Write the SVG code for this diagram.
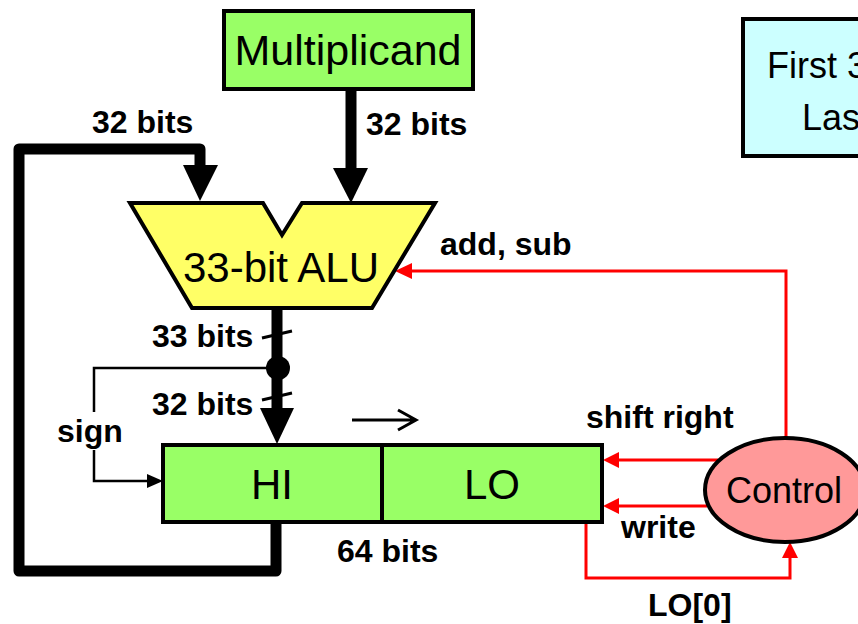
<svg xmlns="http://www.w3.org/2000/svg" width="858" height="624" viewBox="0 0 858 624">
<style>
.reg{font-family:"Liberation Sans",Arial,sans-serif;fill:#000}
.lbl{font-family:"Liberation Sans",Arial,sans-serif;font-weight:bold;font-size:32px;fill:#000}
.box{stroke:#000;stroke-width:4}
.bus{fill:none;stroke:#000;stroke-width:11;stroke-linejoin:round}
.thin{fill:none;stroke:#000;stroke-width:2.5}
.red{fill:none;stroke:#FF0000;stroke-width:3}
.redh{fill:#FF0000}
</style>
<rect width="858" height="624" fill="#fff"/>

<g id="connectors">
  <path class="bus" d="M276 522 L276 571 L19 571 L19 149 L200 149 L200 168"/>
  <polygon points="183,165 218,165 200,201" fill="#000"/>
  <path class="bus" d="M351 89 L351 170"/>
  <polygon points="333,168 368,168 351,203" fill="#000"/>
  <path class="bus" d="M277 306 L277 410"/>
  <polygon points="260,408 294,408 277,444" fill="#000"/>
  <line x1="262" y1="338" x2="292" y2="331" stroke="#000" stroke-width="3"/>
  <line x1="262" y1="400" x2="292" y2="393" stroke="#000" stroke-width="3"/>
  <circle cx="278" cy="368" r="12" fill="#000"/>
  <path class="thin" d="M278 368 L94 368 L94 412"/>
  <path class="thin" d="M94 450 L94 481 L150 481"/>
  <polygon points="147,474 163,481 147,488" fill="#000"/>
  <path d="M352 420 L415 420 M398 410 L416 420 L398 430" fill="none" stroke="#000" stroke-width="3"/>
  <path class="red" d="M786 440 L786 271 L410 271"/>
  <polygon class="redh" points="412,263 395,271 412,279"/>
  <path class="red" d="M718 460 L616 460"/>
  <polygon class="redh" points="619,452 603,460 619,468"/>
  <path class="red" d="M707 506 L616 506"/>
  <polygon class="redh" points="619,498 603,506 619,514"/>
  <path class="red" d="M586 522 L586 578 L790 578 L790 555"/>
  <polygon class="redh" points="782,558 790,542 798,558"/>
</g>

<g id="multiplicand">
  <rect class="box" x="224" y="11" width="249" height="78" fill="#99FF66"/>
  <text class="reg" x="348" y="65" font-size="43" text-anchor="middle">Multiplicand</text>
</g>

<g id="alu">
  <polygon class="box" points="130,203 263,203 282,235 302,203 435,203 372,308 192,308" fill="#FFFF66" stroke-linejoin="miter"/>
  <text class="reg" x="281" y="282" font-size="42" text-anchor="middle">33-bit ALU</text>
</g>

<g id="hilo">
  <rect class="box" x="163" y="445" width="439" height="77" fill="#99FF66"/>
  <line x1="382" y1="445" x2="382" y2="522" stroke="#000" stroke-width="4"/>
  <text class="reg" x="272" y="499" font-size="42" text-anchor="middle">HI</text>
  <text class="reg" x="492" y="499" font-size="42" text-anchor="middle">LO</text>
</g>

<g id="control">
  <ellipse class="box" cx="785" cy="490" rx="80" ry="52" fill="#FF9999"/>
  <text class="reg" x="784" y="503" font-size="36" text-anchor="middle">Control</text>
</g>

<g id="note">
  <rect class="box" x="743" y="19" width="160" height="137" fill="#CCFFFF"/>
  <text class="reg" x="767" y="78" font-size="36">First 3</text>
  <text class="reg" x="802" y="130" font-size="36">Las</text>
</g>

<g id="labels">
  <text class="lbl" x="92" y="133">32 bits</text>
  <text class="lbl" x="366" y="135">32 bits</text>
  <text class="lbl" x="440" y="255">add, sub</text>
  <text class="lbl" x="152" y="347">33 bits</text>
  <text class="lbl" x="152" y="415">32 bits</text>
  <text class="lbl" x="57" y="442">sign</text>
  <text class="lbl" x="586" y="428">shift right</text>
  <text class="lbl" x="621" y="538">write</text>
  <text class="lbl" x="337" y="562">64 bits</text>
  <text class="lbl" x="648" y="616">LO[0]</text>
</g>
</svg>
